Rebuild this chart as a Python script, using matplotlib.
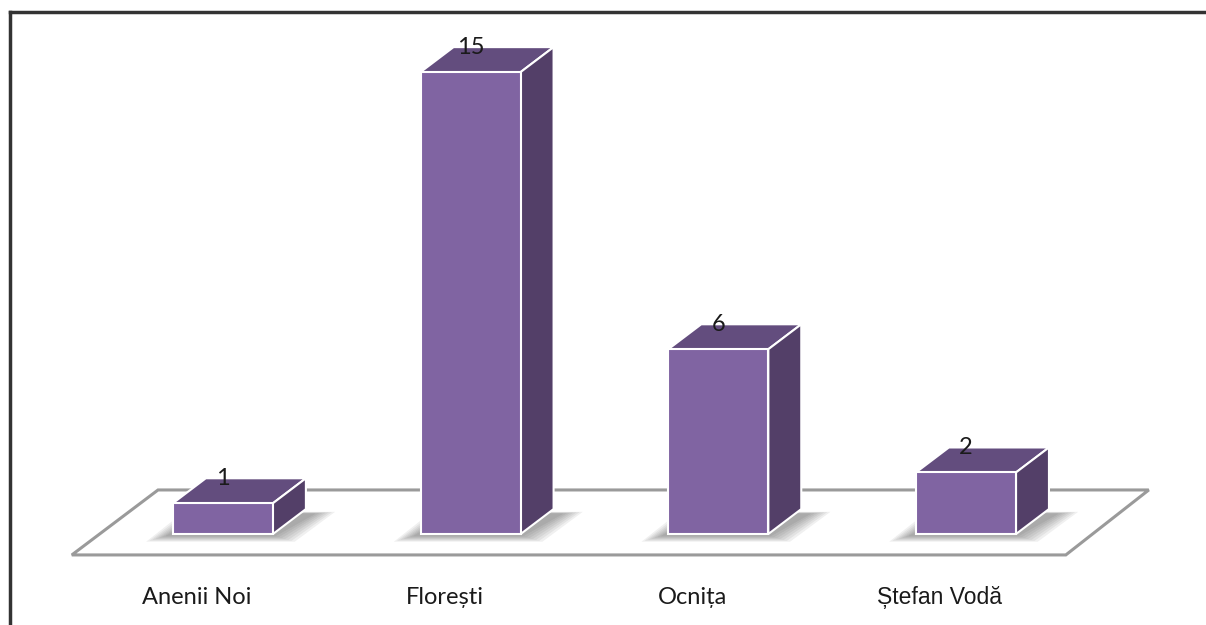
import numpy as np
from matplotlib import pyplot as plt
from matplotlib.patches import Polygon
from matplotlib.lines import Line2D

# data
categories = ["Anenii Noi", "Florești", "Ocnița", "Ștefan Vodă"]
values = [1, 15, 6, 2]

front_col = "#8064A2"
top_col = "#634D7E"
side_col = "#533F68"

fig = plt.figure(figsize=(12.06, 6.25), dpi=100)
ax = fig.add_axes([0, 0, 1, 1])
ax.set_xlim(-0.900, 3.969)
ax.set_ylim(-2.955, 17.34)
ax.axis("off")

x = np.arange(len(categories))
w = 0.404
ddx, ddy = 0.133, 0.81  # depth offset of the boxes

# floor
floor = Polygon([(-0.61, -0.68), (3.403, -0.68), (3.738, 1.43), (-0.262, 1.43)],
                closed=True, facecolor="white", edgecolor="#9a9a9a", lw=2.2, zorder=1)
ax.add_patch(floor)

# soft shadows under the boxes (stacked, growing footprints)
for xi in x:
    l, r = xi - w / 2, xi + w / 2
    for k in range(7):
        ex = 0.01 + 0.013 * k
        ey = 0.02 + 0.03 * k
        pts = [(l - ex - 0.02, -0.05 - ey), (r + ex, -0.05 - ey),
               (r + ddx + ex + 0.03, ddy - 0.15 + ey * 0.3),
               (l + ddx - ex, ddy - 0.15 + ey * 0.3)]
        ax.add_patch(Polygon(pts, closed=True, facecolor="#404040", alpha=0.08,
                             lw=0, zorder=2))

# front faces
ax.bar(x, values, width=w, color=front_col, edgecolor="white", lw=1.5, zorder=4)

for xi, v in zip(x, values):
    l, r = xi - w / 2, xi + w / 2
    top = Polygon([(l, v), (r, v), (r + ddx, v + ddy), (l + ddx, v + ddy)],
                  closed=True, facecolor=top_col, edgecolor="white", lw=1.5, zorder=3)
    side = Polygon([(r, 0), (r + ddx, ddy), (r + ddx, v + ddy), (r, v)],
                   closed=True, facecolor=side_col, edgecolor="white", lw=1.5, zorder=3)
    ax.add_patch(top)
    ax.add_patch(side)
    ax.text(xi, v + ddy, str(v), ha="center", va="center", fontsize=17,
            family=["Lato", "DejaVu Sans"], color="#1a1a1a", zorder=5)

for xi, c in zip(x, categories):
    if c.startswith("Ș"):
        fam, fs = ["Liberation Sans", "DejaVu Sans"], 16.5
    else:
        fam, fs = ["Lato", "DejaVu Sans"], 17
    ax.text(xi - 0.105, -2.05, c, ha="center", va="center", fontsize=fs,
            family=fam, color="#1a1a1a")

# outer frame (left and top only visible)
fig.add_artist(Line2D([10 / 1206, 10 / 1206], [0, 1 - 12 / 625], color="#333333", lw=2.5))
fig.add_artist(Line2D([10 / 1206, 1], [1 - 12 / 625, 1 - 12 / 625], color="#333333", lw=2.5))

fig.savefig("out.png", dpi=100, facecolor="white")
